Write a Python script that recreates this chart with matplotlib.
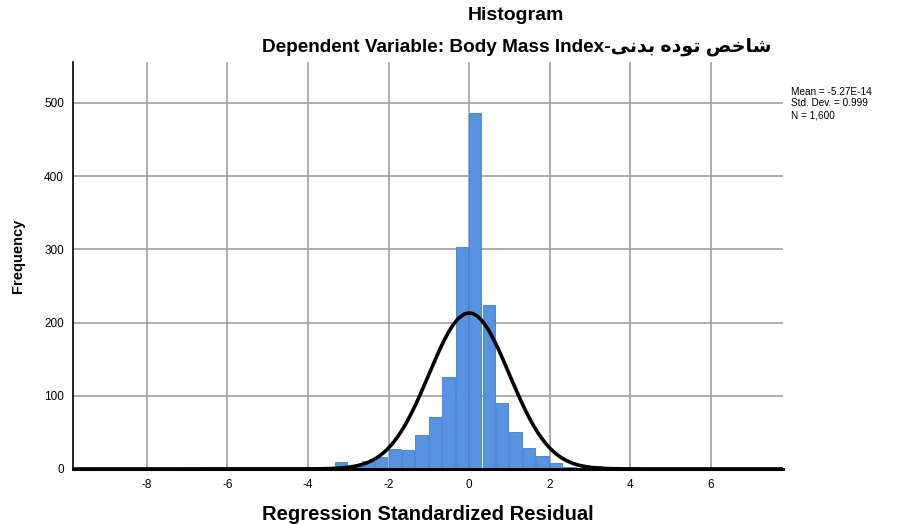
import matplotlib
matplotlib.use("Agg")
import matplotlib.pyplot as plt
import numpy as np

plt.rcParams['font.family'] = ['Liberation Sans', 'DejaVu Sans']

# histogram bins: left edge = k * bin_width
bin_width = 1 / 3
bin_index = [-15, -14, -13, -12, -11, -10, -9, -8, -7, -6, -5, -4, -3,
             -2, -1, 0, 1, 2, 3, 4, 5, 6, 7, 8, 9]
counts = [1, 0, 0, 1, 1, 9, 4, 11, 16, 27, 26, 46, 71,
          125, 303, 486, 224, 90, 50, 29, 18, 8, 3, 1, 4]

mean = -5.27e-14
std_dev = 0.999
n_obs = 1600

x_ticks = [-8, -6, -4, -2, 0, 2, 4, 6]
y_ticks = [0, 100, 200, 300, 400, 500]

# Persian part of the label, pre-shaped glyphs in visual order
persian = ("\uFBFD\uFEE7\uFEAA\uFE91 "
           "\uFEE9\uFEA9\uFEEE\uFE97 "
           "\uFEBA\uFEA7\uFE8E\uFEB7")
subtitle = "Dependent Variable: Body Mass Index-" + persian

fig = plt.figure(figsize=(8.98, 5.25), dpi=100)
ax = fig.add_axes([0.0813, 0.1067, 0.7907, 0.7753])

left = np.array(bin_index) * bin_width
ax.bar(left, counts, width=bin_width * 0.92, align='edge',
       color='#5893e0', edgecolor='#3f7dd2', linewidth=0.6, zorder=2)

xs = np.linspace(-9.83, 7.79, 600)
curve = n_obs * bin_width / (std_dev * np.sqrt(2 * np.pi)) * \
    np.exp(-0.5 * ((xs - mean) / std_dev) ** 2)
ax.plot(xs, curve, color='black', linewidth=2.6, zorder=3,
        solid_capstyle='butt')

ax.set_xlim(-9.83, 7.79)
ax.set_ylim(0, 556)
ax.set_xticks(x_ticks)
ax.set_yticks(y_ticks)
ax.set_xticklabels([str(t) for t in x_ticks])
ax.tick_params(axis='x', length=0, labelsize=8.5, pad=7)
ax.tick_params(axis='y', length=0, labelsize=8.5, pad=6.5)
ax.grid(True, color='#a0a0a0', linewidth=1.2, zorder=0)
ax.set_axisbelow(True)

ax.spines['top'].set_visible(False)
ax.spines['right'].set_visible(False)
ax.spines['left'].set_linewidth(1.2)
ax.spines['bottom'].set_linewidth(2.2)
ax.spines['bottom'].set_zorder(4)

fig.text(0.4766, 1 - 514 / 525, 'Regression Standardized Residual',
         ha='center', va='center', fontsize=14.5, fontweight='bold')
fig.text(0.020, 1 - 256 / 525, 'Frequency', ha='center', va='center',
         rotation=90, fontsize=10.5, fontweight='bold')

fig.text(0.575, 0.971, 'Histogram', ha='center', va='center',
         fontsize=14, fontweight='bold')
fig.text(0.576, 0.910, subtitle, ha='center', va='center',
         fontsize=13.7, fontweight='bold')

stats = ['Mean = -5.27E-14', 'Std. Dev. = 0.999', 'N = 1,600']
for i, s in enumerate(stats):
    fig.text(0.881, 1 - (92 + i * 11.5) / 525, s, ha='left', va='center',
             fontsize=7.2)

fig.savefig('out.png', dpi=100)
